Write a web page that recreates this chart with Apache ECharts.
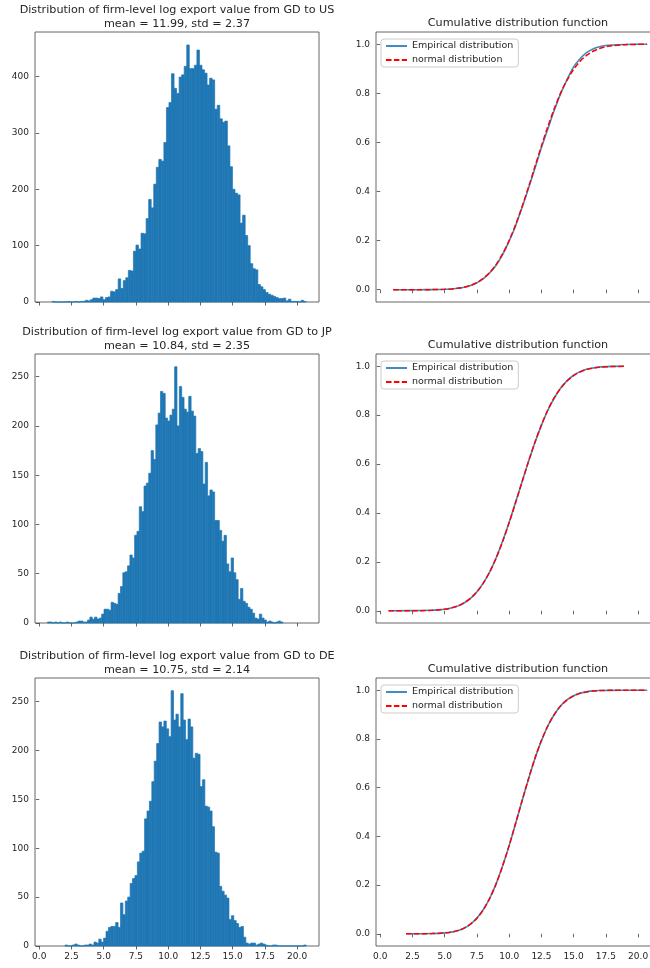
<!DOCTYPE html>
<html><head><meta charset="utf-8">
<script src="https://cdn.jsdelivr.net/npm/echarts@6/dist/echarts.min.js"></script>
<style>html,body{margin:0;padding:0;background:#fff;overflow:hidden;width:650px;height:968px}#c{width:672px;height:968px}</style>
</head><body><div id="c"></div>
<script>
// ---------------- data ----------------
const countries = ['US', 'JP', 'DE'];
const means = ['11.99', '10.84', '10.75'];
const stds = ['2.37', '2.35', '2.14'];

// histogram bins (100 bins each): first edge and bin width
const usBinStart = 1.0,  usBinWidth = 0.197;
const jpBinStart = 0.64, jpBinWidth = 0.1826;
const deBinStart = 2.0,  deBinWidth = 0.187;

const usCounts = [1,0,0,0,0,0,1,0,0,1,0,1,1,
  3,2,4,7,7,6,9,4,8,9,19,18,22,41,24,38,43,56,55,90,101,94,122,121,148,182,167,
  209,239,253,250,283,345,354,405,379,370,399,403,418,456,414,414,420,447,420,412,406,385,397,394,
  342,349,325,319,321,277,240,200,193,190,140,154,118,100,68,59,57,31,27,22,17,14,12,10,8,6,6,7,2,5,1,1,1,0,3,1];

const jpCounts = [1,1,0,1,0,1,0,0,1,0,0,0,1,2,2,1,1,3,6,4,6,4,5,9,14,14,13,21,20,19,
  30,37,51,52,58,69,66,89,93,118,113,139,142,152,175,166,201,213,235,233,208,205,211,217,260,
  200,240,229,217,214,230,215,210,172,177,174,141,163,129,135,133,104,104,94,83,89,60,52,66,51,44,
  24,35,22,20,16,14,10,5,4,9,5,3,1,2,1,0,1,2,1];

const deCounts = [1,0,0,1,2,1,0,0,1,1,2,1,4,3,7,4,8,15,19,20,20,24,19,44,32,46,50,64,69,72,86,95,97,
  130,138,148,168,189,207,229,224,230,222,214,261,231,237,224,258,231,211,232,224,192,197,196,163,170,
  143,142,138,122,96,95,61,56,52,49,27,31,26,23,19,20,9,3,2,3,3,1,2,3,2,1,0,0,1,1,0,0,0,0,0,0,0,0,0,0,0,1];

// cumulative distribution curves
const usCdfX  = [1.0,2,3,4,5,5.5,6,6.5,7,7.5,8,8.5,9,9.5,10,10.5,11,11.5,12,12.5,13,13.5,14,14.5,15,15.5,16,16.5,17,17.5,18,19,20,20.7];
const usEmpY  = [0,0,0.0002,0.0006,0.002,0.003,0.006,0.010,0.017,0.028,0.045,0.069,0.101,0.144,0.199,0.261,0.335,0.413,0.495,0.578,0.655,0.731,0.800,0.857,0.908,0.941,0.966,0.981,0.990,0.995,0.997,0.9993,0.9999,1.0];
const usNormY = [0,0,0.0001,0.0004,0.0016,0.0031,0.0057,0.0103,0.0176,0.0291,0.0465,0.0704,0.1038,0.1467,0.2005,0.2647,0.338,0.418,0.5017,0.585,0.665,0.738,0.802,0.855,0.898,0.9307,0.9547,0.9715,0.9827,0.990,0.9944,0.9985,0.9996,0.9999];

const jpCdfX  = [0.64,1,2,3,4,4.5,5,5.5,6,6.5,7,7.5,8,8.5,9,9.5,10,10.5,11,11.5,12,12.5,13,13.5,14,14.5,15,15.5,16,16.5,17,18,18.9];
const jpEmpY  = [0,0.0001,0.0005,0.001,0.002,0.0035,0.006,0.011,0.019,0.032,0.051,0.078,0.114,0.160,0.218,0.286,0.362,0.444,0.528,0.610,0.688,0.758,0.820,0.870,0.911,0.941,0.963,0.978,0.988,0.993,0.997,0.9993,1.0];
const jpNormY = [0,0,0.0001,0.0004,0.0018,0.0035,0.0065,0.0115,0.0197,0.0324,0.0511,0.0776,0.1134,0.1597,0.2168,0.2843,0.3605,0.4424,0.527,0.6106,0.689,0.760,0.821,0.8712,0.9107,0.9403,0.9616,0.9763,0.986,0.992,0.9956,0.9988,0.9997];

const deCdfX  = [2.0,3,4,5,5.5,6,6.5,7,7.5,8,8.5,9,9.5,10,10.5,11,11.5,12,12.5,13,13.5,14,14.5,15,15.5,16,16.5,17,18,19,20,20.7];
const deEmpY  = [0,0.0003,0.001,0.004,0.007,0.013,0.023,0.040,0.065,0.100,0.147,0.207,0.280,0.362,0.453,0.545,0.635,0.720,0.792,0.853,0.900,0.936,0.961,0.977,0.988,0.9935,0.997,0.9985,0.9993,0.9997,0.9998,1.0];
const deNormY = [0,0.0001,0.0008,0.0036,0.0071,0.0132,0.0235,0.0399,0.0644,0.0994,0.1466,0.2067,0.2796,0.363,0.4535,0.5465,0.6368,0.7204,0.7933,0.8534,0.9006,0.9356,0.9601,0.9765,0.9868,0.9929,0.9964,0.9983,0.9997,0.9999,1.0,1.0];

// axes
const xMin = -0.33, xMax = 21.7;
const xTicks = [0, 2.5, 5, 7.5, 10, 12.5, 15, 17.5, 20];
const histYMax = [479, 273, 274];
const histYTicks = [[0,100,200,300,400],[0,50,100,150,200,250],[0,50,100,150,200,250]];
const cdfYMin = -0.05, cdfYMax = 1.05;
const cdfYTicks = [0, 0.2, 0.4, 0.6, 0.8, 1.0];
const empName = 'Empirical distribution';
const normName = 'normal distribution';

// ---------------- layout / style ----------------
const FONT = 'DejaVu Sans';
const TXT = '#262626';
const SPINE = '#404040';
const rowTop = [32, 354, 678];
const rowH = [270, 269, 268];
const colLeft = [35, 376];
const colW = 284;

const hists = [
  {start: usBinStart, width: usBinWidth, counts: usCounts},
  {start: jpBinStart, width: jpBinWidth, counts: jpCounts},
  {start: deBinStart, width: deBinWidth, counts: deCounts}
];
const cdfs = [
  {x: usCdfX, emp: usEmpY, norm: usNormY},
  {x: jpCdfX, emp: jpEmpY, norm: jpNormY},
  {x: deCdfX, emp: deEmpY, norm: deNormY}
];

const grid = [], xAxis = [], yAxis = [], series = [], title = [], legend = [];

for (let r = 0; r < 3; r++) {
  for (let c = 0; c < 2; c++) {
    const gi = r * 2 + c;
    grid.push({left: colLeft[c], top: rowTop[r], width: colW, height: rowH[r],
      show: true, borderColor: SPINE, borderWidth: 0.8, backgroundColor: 'transparent', containLabel: false});
    xAxis.push({type: 'value', gridIndex: gi, min: xMin, max: xMax,
      axisLine: {show: false}, splitLine: {show: false},
      axisTick: {show: true, customValues: xTicks, length: 3.5, lineStyle: {color: SPINE, width: 0.8}},
      axisLabel: {show: r === 2, customValues: xTicks, formatter: v => v.toFixed(1),
        fontSize: 9, fontFamily: FONT, color: TXT, margin: 6}});
    if (c === 0) {
      yAxis.push({type: 'value', gridIndex: gi, min: 0, max: histYMax[r],
        axisLine: {show: false}, splitLine: {show: false},
        axisTick: {show: true, customValues: histYTicks[r], length: 3.5, lineStyle: {color: SPINE, width: 0.8}},
        axisLabel: {customValues: histYTicks[r], fontSize: 9, fontFamily: FONT, color: TXT, margin: 6}});
    } else {
      yAxis.push({type: 'value', gridIndex: gi, min: cdfYMin, max: cdfYMax,
        axisLine: {show: false}, splitLine: {show: false},
        axisTick: {show: true, customValues: cdfYTicks, length: 3.5, lineStyle: {color: SPINE, width: 0.8}},
        axisLabel: {customValues: cdfYTicks, formatter: v => v.toFixed(1), fontSize: 9, fontFamily: FONT, color: TXT, margin: 6}});
    }
  }
  // histogram
  const h = hists[r];
  const hData = h.counts.map((cnt, i) => [h.start + i * h.width, h.start + (i + 1) * h.width, cnt]);
  series.push({type: 'custom', xAxisIndex: r * 2, yAxisIndex: r * 2, data: hData,
    encode: {x: [0, 1], y: 2}, silent: true,
    renderItem: (params, api) => {
      const p0 = api.coord([api.value(0), api.value(2)]);
      const p1 = api.coord([api.value(1), 0]);
      return {type: 'rect', shape: {x: p0[0], y: p0[1], width: p1[0] - p0[0], height: p1[1] - p0[1]},
        style: {fill: '#1f77b4', stroke: '#1f77b4', lineWidth: 0.7}};
    }});
  // cdf lines
  const cd = cdfs[r];
  series.push({type: 'line', name: empName, xAxisIndex: r * 2 + 1, yAxisIndex: r * 2 + 1,
    data: cd.x.map((v, i) => [v, cd.emp[i]]), symbol: 'none', showSymbol: false,
    smooth: 0.3, itemStyle: {color: '#1f77b4'},
    lineStyle: {color: '#1f77b4', width: 1.6, opacity: 0.85}, z: 2});
  series.push({type: 'line', name: normName, xAxisIndex: r * 2 + 1, yAxisIndex: r * 2 + 1,
    data: cd.x.map((v, i) => [v, cd.norm[i]]), symbol: 'none', showSymbol: false,
    smooth: 0.3, itemStyle: {color: '#ff0000'},
    lineStyle: {color: '#ff0000', width: 1.5, type: [5.5, 2.4]}, z: 3});

  // titles
  title.push({text: 'Distribution of firm-level log export value from GD to ' + countries[r] +
      '\nmean = ' + means[r] + ', std = ' + stds[r],
    left: colLeft[0] + colW / 2, top: rowTop[r] - 29, textAlign: 'center', padding: 0,
    textStyle: {fontSize: 11.2, fontWeight: 'normal', fontFamily: FONT, color: TXT, lineHeight: 14}});
  title.push({text: 'Cumulative distribution function',
    left: colLeft[1] + colW / 2, top: rowTop[r] - 15.5, textAlign: 'center', padding: 0,
    textStyle: {fontSize: 11.2, fontWeight: 'normal', fontFamily: FONT, color: TXT, lineHeight: 14}});
  legend.push({data: [empName, normName], orient: 'vertical', left: colLeft[1] + 5, top: rowTop[r] + 7,
    itemWidth: 21, itemHeight: 10, itemGap: 4, padding: [2, 5, 2, 4],
    itemStyle: {opacity: 0, borderWidth: 0},
    backgroundColor: 'rgba(255,255,255,0.8)', borderColor: '#cccccc', borderWidth: 1, borderRadius: 3,
    textStyle: {fontSize: 9.5, fontFamily: FONT, color: TXT, lineHeight: 10}, selectedMode: false});
}

const chart = echarts.init(document.getElementById('c'), null, {renderer: 'canvas'});
chart.setOption({animation: false, backgroundColor: '#ffffff', title, legend, grid, xAxis, yAxis, series});
</script>
</body></html>
